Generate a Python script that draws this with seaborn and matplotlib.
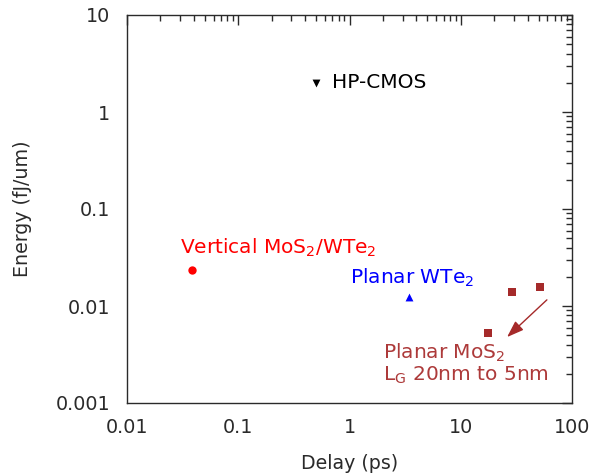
import matplotlib
matplotlib.use("Agg")
import matplotlib.pyplot as plt
import seaborn as sns
import pandas as pd
from matplotlib.ticker import LogLocator, NullFormatter, FixedLocator, FixedFormatter

sns.set_theme(style="white")
plt.rcParams['font.family'] = ['DejaVu Sans']
plt.rcParams['mathtext.default'] = 'regular'

# data
cmos_delay = [0.5]
cmos_energy = [2.0]
vert_delay = [0.0384]
vert_energy = [0.0235]
pwte2_delay = [3.43]
pwte2_energy = [0.0124]
pmos2_delay = [17.6, 28.9, 51.5]
pmos2_energy = [0.00527, 0.0139, 0.0157]

x_ticks = [0.01, 0.1, 1, 10, 100]
x_labels = ["0.01", "0.1", "1", "10", "100"]
y_ticks = [0.001, 0.01, 0.1, 1, 10]
y_labels = ["0.001", "0.01", "0.1", "1", "10"]

brown = "#a52a2a"
tc = "#2a2a2a"

fig = plt.figure(figsize=(5.93, 4.75), dpi=100)
ax = fig.add_axes([127/593, 1-403/475, (572-127)/593, (403-15)/475])

sns.scatterplot(x=cmos_delay, y=cmos_energy, marker="v", color="black", s=32, ax=ax, linewidth=0)
sns.scatterplot(x=vert_delay, y=vert_energy, marker="o", color="red", s=36, ax=ax, linewidth=0)
sns.scatterplot(x=pwte2_delay, y=pwte2_energy, marker="^", color="blue", s=32, ax=ax, linewidth=0)
sns.scatterplot(x=pmos2_delay, y=pmos2_energy, marker="s", color=brown, s=34, ax=ax, linewidth=0)

ax.set_xscale("log")
ax.set_yscale("log")
ax.set_xlim(0.01, 100)
ax.set_ylim(0.001, 10)

ax.xaxis.set_major_locator(FixedLocator(x_ticks))
ax.xaxis.set_major_formatter(FixedFormatter(x_labels))
ax.yaxis.set_major_locator(FixedLocator(y_ticks))
ax.yaxis.set_major_formatter(FixedFormatter(y_labels))
ax.xaxis.set_minor_locator(LogLocator(base=10, subs=range(2, 10)))
ax.yaxis.set_minor_locator(LogLocator(base=10, subs=range(2, 10)))
ax.xaxis.set_minor_formatter(NullFormatter())
ax.yaxis.set_minor_formatter(NullFormatter())

ax.tick_params(which="both", direction="in", top=True, right=True, colors=tc,
               labelsize=13.8, width=1)
ax.tick_params(which="major", length=7)
ax.tick_params(axis="x", which="major", pad=11)
ax.tick_params(axis="y", which="major", pad=12)
ax.tick_params(which="minor", length=4)
for s in ax.spines.values():
    s.set_color(tc)
    s.set_linewidth(1)

ax.set_xlabel("Delay (ps)", fontsize=13.7, color=tc, labelpad=12)
ax.set_ylabel("Energy (fJ/um)", fontsize=13.7, color=tc, labelpad=17)

fs = 14.5
ax.text(0.70, 2.0, "HP-CMOS", fontsize=fs, color="black", va="center", ha="left")
ax.text(0.030, 0.0396, "Vertical MoS$_2$/WTe$_2$", fontsize=fs, color="red", va="center", ha="left")
ax.text(1.01, 0.0194, "Planar WTe$_2$", fontsize=fs, color="blue", va="center", ha="left")
ax.text(2.0, 0.0033, "Planar MoS$_2$", fontsize=fs, color="#ad3a3a", va="center", ha="left")
ax.text(2.0, 0.00193, "L$_G$ 20nm to 5nm", fontsize=fs, color="#ad3a3a", va="center", ha="left")

ax.annotate("", xy=(25, 0.00457), xytext=(62, 0.0121),
            arrowprops=dict(arrowstyle="-|>,head_length=0.85,head_width=0.3", color=brown, lw=1.0))

fig.savefig("out.png", dpi=100)
